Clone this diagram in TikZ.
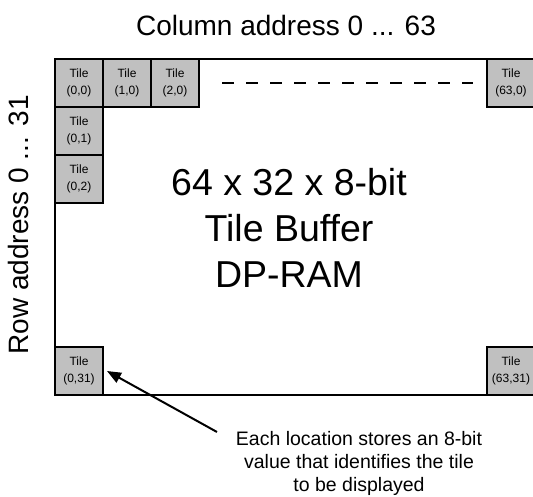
\documentclass[tikz,border=0pt]{standalone}
\usepackage{fontspec}
\setmainfont{Liberation Sans}
\usetikzlibrary{arrows.meta,positioning}
\definecolor{TileGray}{HTML}{C0C0C0}

\begin{document}
\begin{tikzpicture}[x=1pt,y=-1pt,
      tile/.style={draw,fill=TileGray,line width=1.6pt,outer sep=0pt,inner sep=0pt,
      minimum size=48pt,align=center,font=\fontsize{12}{17}\selectfont},
      addr/.style={font=\fontsize{28}{32}\selectfont}]
      \useasboundingbox (0,0) rectangle (533,496);
      \draw[line width=2.4pt] (55,59) rectangle (535,395);
      \node[addr,anchor=base] (coladdr) at (286,35) {Column address 0 ... 63};
      \node[addr,anchor=base,rotate=90] (rowaddr) at (28,225) {Row address 0 ... 31};
      \node[tile] (t00) at (79,83) {Tile\\(0,0)};
      \node[tile,right=0pt of t00] (t10) {Tile\\(1,0)};
      \node[tile,right=0pt of t10] (t20) {Tile\\(2,0)};
      \node[tile,below=0pt of t00] (t01) {Tile\\(0,1)};
      \node[tile,below=0pt of t01] (t02) {Tile\\(0,2)};
      \node[tile] (t630) at (511,83) {Tile\\(63,0)};
      \node[tile] (t031) at (79,371) {Tile\\(0,31)};
      \node[tile] (t6331) at (511,371) {Tile\\(63,31)};
      \draw[line width=2pt,dash pattern=on 12pt off 12pt,shorten <=23pt,shorten >=14pt]
      (t20.east)--(t630.west);
      \node[align=center,font=\fontsize{37.5}{46}\selectfont] (ram) at (289,228)
      {64 x 32 x 8-bit\\Tile Buffer\\DP-RAM};
      \node[align=center,font=\fontsize{19.5}{23}\selectfont] (note) at (359,463)
      {Each location stores an 8-bit\\value that identifies the tile\\to be displayed};
      \coordinate (tail) at (217,432);
      \draw[line width=2pt,-{Triangle[length=14pt,width=11pt]}] (tail)--([xshift=4pt]t031.east);
    \end{tikzpicture}
\end{document}
